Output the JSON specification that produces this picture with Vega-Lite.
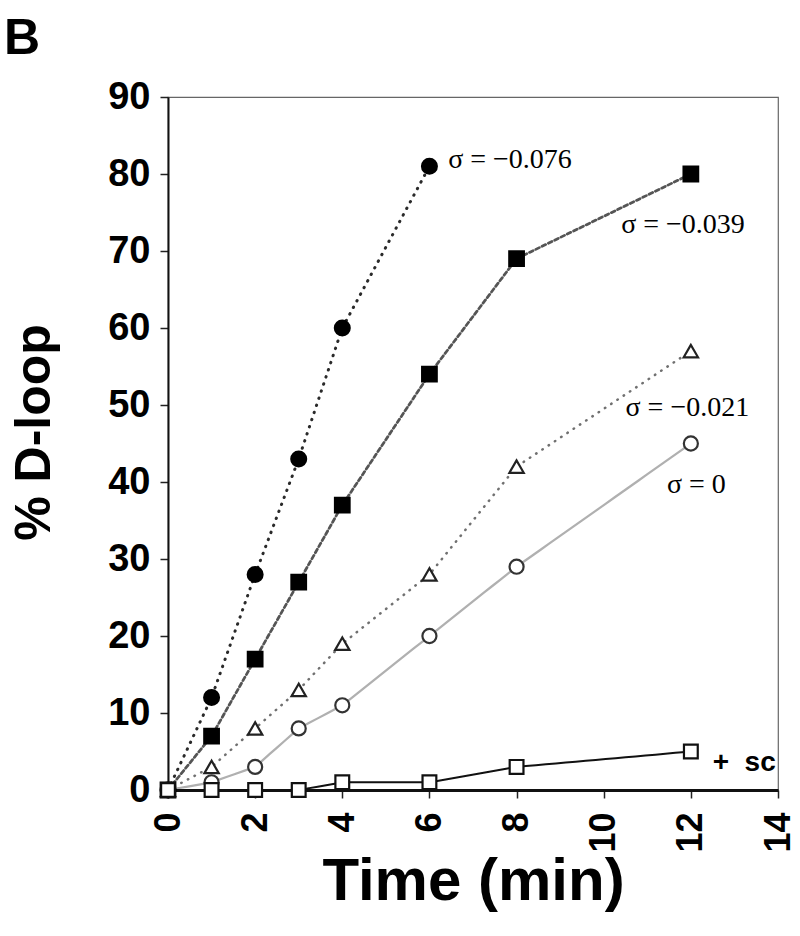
{
  "$schema": "https://vega.github.io/schema/vega-lite/v6.json",
  "width": 610,
  "height": 693,
  "autosize": {"type": "none"},
  "padding": {"left": 168, "top": 97, "right": 22, "bottom": 146},
  "background": "white",
  "title": {"text": "B", "anchor": "start", "frame": "group", "dx": -164, "offset": 14, "fontSize": 50, "font": "Liberation Sans", "fontWeight": "bold", "color": "black"},
  "config": {
    "view": {"stroke": "#666", "strokeWidth": 1.2},
    "axis": {"grid": false, "labelFont": "Liberation Sans", "labelFontWeight": "bold", "labelColor": "black", "titleFont": "Liberation Sans", "titleFontWeight": "bold", "titleColor": "black", "tickColor": "#222", "tickSize": 8, "tickWidth": 1.5, "domainColor": "#111"}
  },
  "datasets": {
    "series": [
      {"series": "s076", "time": 0, "pct": 0}, {"series": "s076", "time": 1, "pct": 12}, {"series": "s076", "time": 2, "pct": 28}, {"series": "s076", "time": 3, "pct": 43}, {"series": "s076", "time": 4, "pct": 60}, {"series": "s076", "time": 6, "pct": 81},
      {"series": "s039", "time": 0, "pct": 0}, {"series": "s039", "time": 1, "pct": 7}, {"series": "s039", "time": 2, "pct": 17}, {"series": "s039", "time": 3, "pct": 27}, {"series": "s039", "time": 4, "pct": 37}, {"series": "s039", "time": 6, "pct": 54}, {"series": "s039", "time": 8, "pct": 69}, {"series": "s039", "time": 12, "pct": 80},
      {"series": "s021", "time": 0, "pct": 0}, {"series": "s021", "time": 1, "pct": 3}, {"series": "s021", "time": 2, "pct": 8}, {"series": "s021", "time": 3, "pct": 13}, {"series": "s021", "time": 4, "pct": 19}, {"series": "s021", "time": 6, "pct": 28}, {"series": "s021", "time": 8, "pct": 42}, {"series": "s021", "time": 12, "pct": 57},
      {"series": "s0", "time": 0, "pct": 0}, {"series": "s0", "time": 1, "pct": 1}, {"series": "s0", "time": 2, "pct": 3}, {"series": "s0", "time": 3, "pct": 8}, {"series": "s0", "time": 4, "pct": 11}, {"series": "s0", "time": 6, "pct": 20}, {"series": "s0", "time": 8, "pct": 29}, {"series": "s0", "time": 12, "pct": 45},
      {"series": "sc", "time": 0, "pct": 0}, {"series": "sc", "time": 1, "pct": 0}, {"series": "sc", "time": 2, "pct": 0}, {"series": "sc", "time": 3, "pct": 0}, {"series": "sc", "time": 4, "pct": 1}, {"series": "sc", "time": 6, "pct": 1}, {"series": "sc", "time": 8, "pct": 3}, {"series": "sc", "time": 12, "pct": 5}
    ],
    "sigmaLabels": [
      {"label": "σ = −0.076", "time": 6.43, "pct": 81.8},
      {"label": "σ = −0.039", "time": 10.4, "pct": 73.4},
      {"label": "σ = −0.021", "time": 10.5, "pct": 49.6},
      {"label": "σ = 0", "time": 11.45, "pct": 39.6}
    ],
    "scLabel": [
      {"label": "+\u00a0\u00a0sc", "time": 12.5, "pct": 3.5}
    ]
  },
  "encoding": {
    "x": {"field": "time", "type": "quantitative", "scale": {"domain": [0, 14], "nice": false, "zero": false},
      "axis": {"values": [0, 2, 4, 6, 8, 10, 12, 14], "labelAngle": 270, "labelFontSize": 36, "labelPadding": 14, "domainWidth": 3, "title": "Time (min)", "titleFontSize": 60, "titlePadding": 0}},
    "y": {"field": "pct", "type": "quantitative", "scale": {"domain": [0, 90], "nice": false},
      "axis": {"values": [0, 10, 20, 30, 40, 50, 60, 70, 80, 90], "labelFontSize": 38, "labelPadding": 10, "domainWidth": 2, "title": "% D-loop", "titleFontSize": 50, "titlePadding": 48, "titleY": 335}}
  },
  "layer": [
    {
      "data": {"name": "series"},
      "mark": {"type": "line", "strokeCap": "round", "strokeJoin": "round"},
      "encoding": {
        "color": {"field": "series", "type": "nominal", "legend": null, "scale": {"domain": ["s076", "s039", "s021", "s0", "sc"], "range": ["#2a2a2a", "#555555", "#707070", "#b0b0b0", "#111111"]}},
        "strokeDash": {"field": "series", "type": "nominal", "legend": null, "scale": {"domain": ["s076", "s039", "s021", "s0", "sc"], "range": [[0.5, 7], [4, 3], [0.5, 7], [10, 0], [10, 0]]}},
        "strokeWidth": {"field": "series", "type": "nominal", "legend": null, "scale": {"domain": ["s076", "s039", "s021", "s0", "sc"], "range": [3, 2, 2.6, 1.5, 2.5]}}
      }
    },
    {
      "data": {"name": "series"},
      "mark": {"type": "point", "filled": true, "strokeWidth": 2.2, "opacity": 1},
      "encoding": {
        "shape": {"field": "series", "type": "nominal", "legend": null, "scale": {"domain": ["s076", "s039", "s021", "s0", "sc"], "range": ["circle", "square", "triangle-up", "circle", "square"]}},
        "fill": {"field": "series", "type": "nominal", "legend": null, "scale": {"domain": ["s076", "s039", "s021", "s0", "sc"], "range": ["#000000", "#000000", "#ffffff", "#ffffff", "#ffffff"]}},
        "stroke": {"field": "series", "type": "nominal", "legend": null, "scale": {"domain": ["s076", "s039", "s021", "s0", "sc"], "range": ["#000000", "#000000", "#222222", "#333333", "#111111"]}},
        "size": {"field": "series", "type": "nominal", "legend": null, "scale": {"domain": ["s076", "s039", "s021", "s0", "sc"], "range": [220, 190, 120, 150, 170]}}
      }
    },
    {
      "data": {"name": "sigmaLabels"},
      "mark": {"type": "text", "align": "left", "baseline": "middle", "font": "Liberation Serif", "fontSize": 28, "color": "black"},
      "encoding": {"text": {"field": "label", "type": "nominal"}}
    },
    {
      "data": {"name": "scLabel"},
      "mark": {"type": "text", "align": "left", "baseline": "middle", "font": "Liberation Sans", "fontWeight": "bold", "fontSize": 28, "color": "black"},
      "encoding": {"text": {"field": "label", "type": "nominal"}}
    }
  ]
}
